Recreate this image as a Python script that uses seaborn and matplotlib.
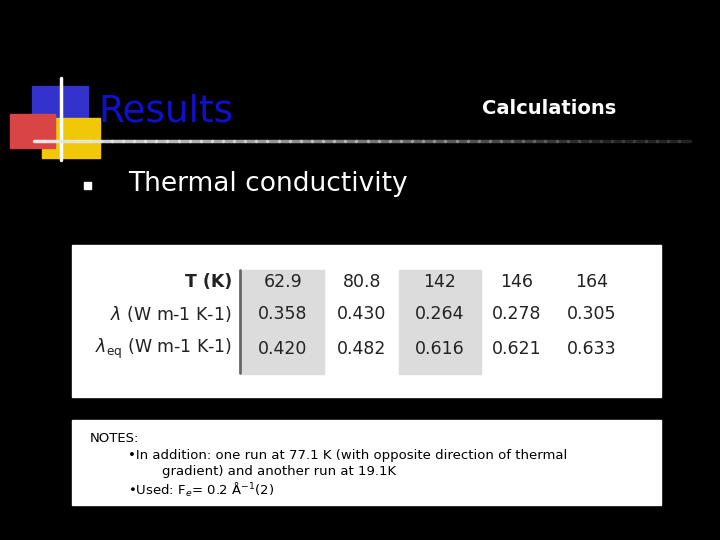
import numpy as np
import matplotlib
matplotlib.use("Agg")
import matplotlib.pyplot as plt
import seaborn as sns
from matplotlib.patches import Rectangle

sns.set_theme(style="white")
plt.rcParams['font.family'] = ['DejaVu Sans']

temps = ['62.9', '80.8', '142', '146', '164']
lam = ['0.358', '0.430', '0.264', '0.278', '0.305']
lam_eq = ['0.420', '0.482', '0.616', '0.621', '0.633']
row_labels = ['T (K)', r'$\lambda$ (W m-1 K-1)', r'$\lambda_{\mathrm{eq}}$ (W m-1 K-1)']
shaded = [0, 2]

fig = plt.figure(figsize=(7.2, 5.4), dpi=100, facecolor='black')
ax = fig.add_axes([0, 0, 1, 1])
ax.set_facecolor('black')
ax.set_xlim(0, 720)
ax.set_ylim(540, 0)
ax.axis('off')

# logo blocks
ax.add_patch(Rectangle((32, 86), 56, 34, color='#3333cc'))
ax.add_patch(Rectangle((42, 118), 58, 40, color='#f0c808'))
ax.add_patch(Rectangle((10, 114), 45, 34, color='#d94444'))
ax.plot([61, 61], [78, 160], color='white', lw=2.5)
xs = np.linspace(34, 690, 60)
for i in range(len(xs) - 1):
    a = 1 - i / len(xs)
    ax.plot(xs[i:i + 2], [141, 141], color=(0.9, 0.9, 0.9, max(a, 0.15)), lw=2.5)

ax.text(98, 112, 'Results', color='#1010cc', fontsize=27, va='center', ha='left')
ax.text(616, 108, 'Calculations', color='white', fontsize=14, fontweight='bold', va='center', ha='right')
ax.add_patch(Rectangle((84, 182), 7, 7, color='white'))
ax.text(128, 184, 'Thermal conductivity', color='white', fontsize=19, va='center', ha='left')

# table box
ax.add_patch(Rectangle((72, 245), 589, 152, color='white'))
col_x = [283, 362, 440, 517, 592]
row_y = [282, 314, 349]
for c in shaded:
    ax.add_patch(Rectangle((col_x[c] - 41, 270), 82, 104, color='#dcdcdc'))
ax.plot([240, 240], [270, 373], color='#666666', lw=2)
for j, lbl in enumerate(row_labels):
    ax.text(232, row_y[j], lbl, ha='right', va='center', fontsize=12.5, color='#222222',
            fontweight='bold' if j == 0 else 'normal')
for j, vals in enumerate([temps, lam, lam_eq]):
    for i, v in enumerate(vals):
        ax.text(col_x[i], row_y[j], v, ha='center', va='center', fontsize=12.5, color='#222222')

# notes box
ax.add_patch(Rectangle((72, 420), 589, 85, color='white'))
ax.text(90, 439, 'NOTES:', fontsize=9.5, va='center', color='black')
ax.text(128, 455, u'\u2022In addition: one run at 77.1 K (with opposite direction of thermal',
        fontsize=9.5, va='center', color='black')
ax.text(162, 471, 'gradient) and another run at 19.1K', fontsize=9.5, va='center', color='black')
ax.text(128, 490, u'\u2022Used: F$_e$= 0.2 \u00c5$^{-1}$(2)', fontsize=9.5, va='center', color='black')

fig.savefig('out.png', dpi=100, facecolor='black')
